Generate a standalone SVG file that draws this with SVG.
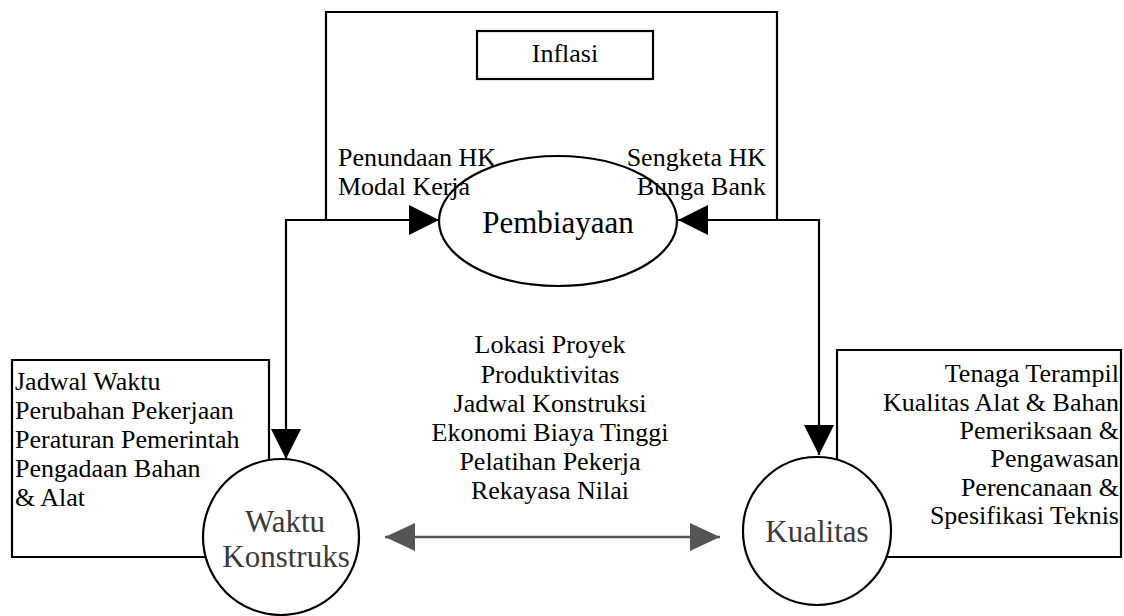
<svg xmlns="http://www.w3.org/2000/svg" width="1124" height="616" viewBox="0 0 1124 616">
<style>
.ln{fill:none;stroke:#000;stroke-width:2.2}
.nd{fill:#fff;stroke:#000;stroke-width:2.2}
.t{font-family:"Liberation Serif","Times New Roman",serif;font-size:26px;fill:#000}
.tc{text-anchor:middle}
.tr{text-anchor:end}
.big{font-size:31px;fill:#3a3a3a}
</style>
<defs>
<marker id="ah" markerUnits="userSpaceOnUse" markerWidth="30" markerHeight="30" refX="30" refY="15" orient="auto-start-reverse"><polygon points="0,0 30,15 0,30" fill="#000"/></marker>
<marker id="ahg" markerUnits="userSpaceOnUse" markerWidth="30" markerHeight="30" refX="30" refY="15" orient="auto-start-reverse"><polygon points="0,1 30,15 0,29" fill="#555"/></marker>
</defs>
<rect width="1124" height="616" fill="#fff"/>
<g id="financing-factors">
<path class="ln" d="M326,220 V12 H777 V220"/>
<rect class="ln" x="477" y="31" width="176" height="48"/>
<text class="t tc" x="565" y="62">Inflasi</text>
<text class="t" x="338" y="166">Penundaan HK</text>
<text class="t" x="338" y="195">Modal Kerja</text>
<text class="t tr" x="766" y="166">Sengketa HK</text>
<text class="t tr" x="766" y="195">Bunga Bank</text>
</g>
<g id="time-factors">
<path class="ln" d="M269,459 V360 H12 V557 H205"/>
<text class="t" x="15" y="390">Jadwal Waktu</text>
<text class="t" x="15" y="419">Perubahan Pekerjaan</text>
<text class="t" x="15" y="448">Peraturan Pemerintah</text>
<text class="t" x="15" y="477">Pengadaan Bahan</text>
<text class="t" x="15" y="506">&amp; Alat</text>
</g>
<g id="quality-factors">
<path class="ln" d="M837,460 V350 H1121 V557 H886"/>
<text class="t tr" x="1119" y="382">Tenaga Terampil</text>
<text class="t tr" x="1119" y="411">Kualitas Alat &amp; Bahan</text>
<text class="t tr" x="1119" y="439">Pemeriksaan &amp;</text>
<text class="t tr" x="1119" y="467">Pengawasan</text>
<text class="t tr" x="1119" y="496">Perencanaan &amp;</text>
<text class="t tr" x="1119" y="524">Spesifikasi Teknis</text>
</g>
<g id="shared-factors">
<text class="t tc" x="550" y="353">Lokasi Proyek</text>
<text class="t tc" x="550" y="383">Produktivitas</text>
<text class="t tc" x="550" y="412">Jadwal Konstruksi</text>
<text class="t tc" x="550" y="441">Ekonomi Biaya Tinggi</text>
<text class="t tc" x="550" y="470">Pelatihan Pekerja</text>
<text class="t tc" x="550" y="499">Rekayasa Nilai</text>
</g>
<g id="connectors">
<path class="ln" d="M286,459 V220 H439" marker-start="url(#ah)" marker-end="url(#ah)"/>
<path class="ln" d="M819,455 V220 H678" marker-start="url(#ah)" marker-end="url(#ah)"/>
<path fill="none" stroke="#555" stroke-width="2.5" d="M385,537 H720" marker-start="url(#ahg)" marker-end="url(#ahg)"/>
</g>
<g id="pembiayaan">
<ellipse class="ln" cx="558" cy="221" rx="119" ry="65"/>
<text class="t tc" x="558" y="233" style="font-size:31px">Pembiayaan</text>
</g>
<g id="waktu">
<circle class="nd" cx="281" cy="537" r="78"/>
<text class="t tc big" x="285" y="532">Waktu</text>
<text class="t tc big" x="286" y="567">Konstruks</text>
</g>
<g id="kualitas">
<circle class="nd" cx="817" cy="531" r="74"/>
<text class="t tc big" x="817" y="542">Kualitas</text>
</g>
</svg>
